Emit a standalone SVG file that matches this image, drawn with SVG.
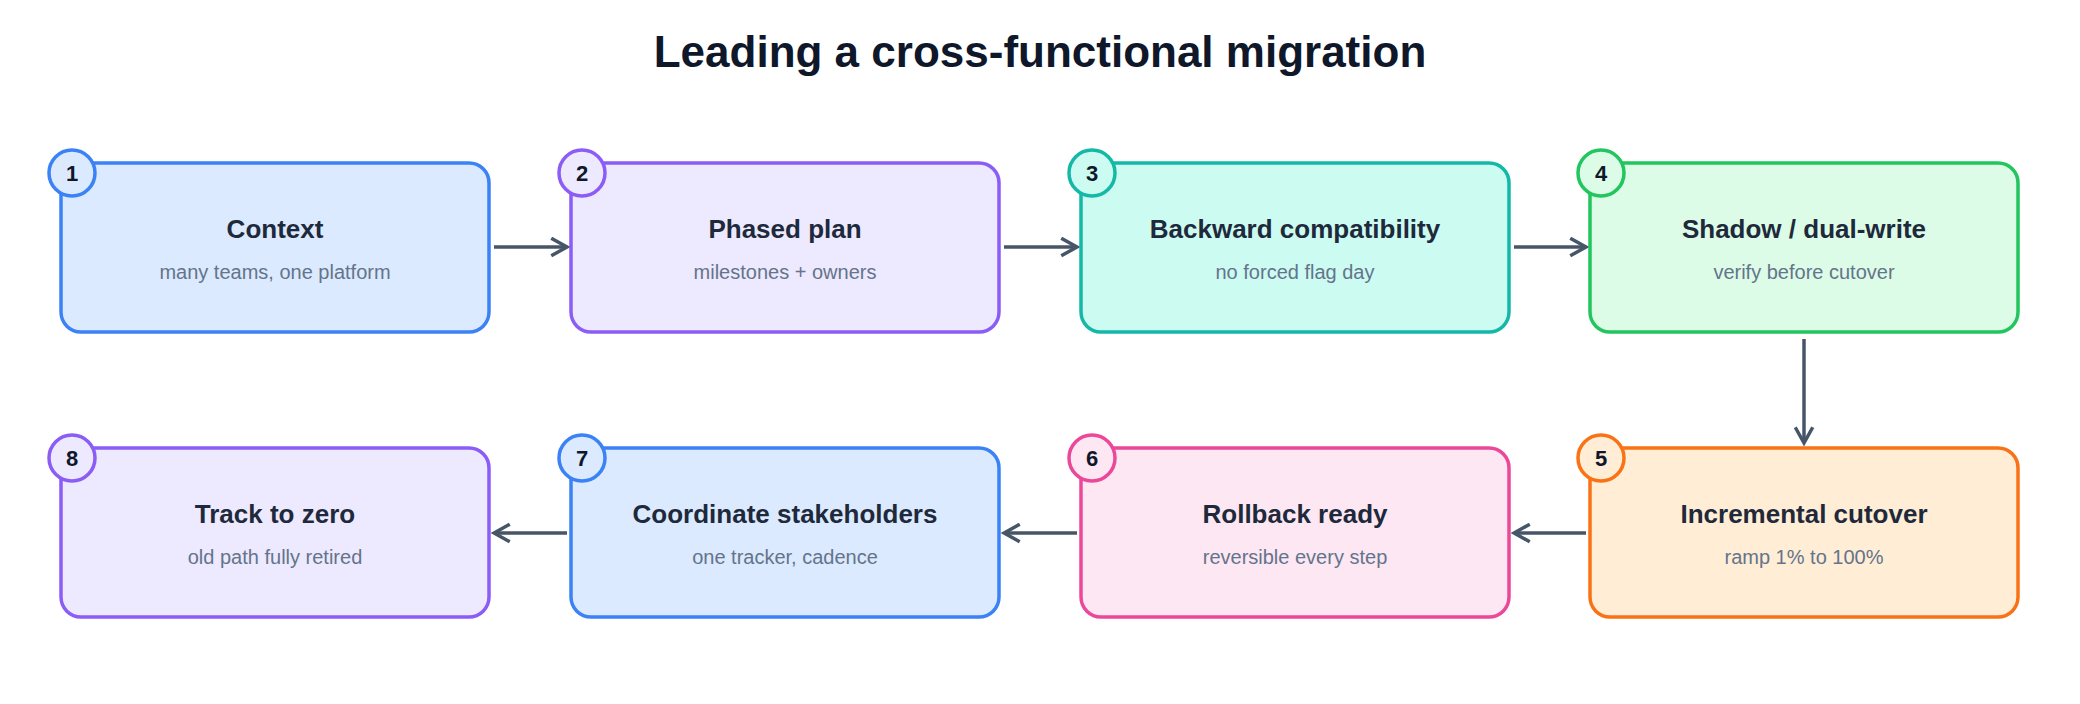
<svg xmlns="http://www.w3.org/2000/svg" width="2080" height="704" viewBox="0 0 2080 704">
<style>
text{font-family:"Liberation Sans",Arial,sans-serif;text-anchor:middle}
.t{font-size:26px;font-weight:bold;fill:#1e293b}
.s{font-size:20px;fill:#64748b}
.n{font-size:22px;font-weight:bold;fill:#0f172a}
.box{stroke-width:3.5}
.c{stroke-width:3.5}
.e{stroke:#475569;stroke-width:3.5;fill:none;marker-end:url(#a)}
</style>
<defs><marker id="a" viewBox="0 0 12 12" refX="10" refY="6" markerWidth="6" markerHeight="6" orient="auto" markerUnits="strokeWidth"><path d="M1 1L10 6L1 11" fill="none" stroke="#475569" stroke-width="2"/></marker></defs>
<rect width="2080" height="704" fill="#fff"/>
<text x="1040" y="67" style="font-size:44px;font-weight:bold;fill:#0f172a">Leading a cross-functional migration</text>
<g id="connectors">
<line class="e" x1="494" y1="247" x2="567" y2="247"/>
<line class="e" x1="1004" y1="247" x2="1077" y2="247"/>
<line class="e" x1="1514" y1="247" x2="1586" y2="247"/>
<line class="e" x1="1804" y1="339" x2="1804" y2="443"/>
<line class="e" x1="1586" y1="533" x2="1514" y2="533"/>
<line class="e" x1="1077" y1="533" x2="1004" y2="533"/>
<line class="e" x1="567" y1="533" x2="494" y2="533"/>
</g>
<g id="n1"><rect class="box" x="61" y="163" width="428" height="169" rx="20" fill="#dbeafe" stroke="#3b82f6"/><circle class="c" cx="72" cy="173" r="23" fill="#dbeafe" stroke="#3b82f6"/><text class="n" x="72" y="181">1</text><text class="t" x="275" y="238">Context</text><text class="s" x="275" y="279">many teams, one platform</text></g>
<g id="n2"><rect class="box" x="571" y="163" width="428" height="169" rx="20" fill="#ede9fe" stroke="#8b5cf6"/><circle class="c" cx="582" cy="173" r="23" fill="#ede9fe" stroke="#8b5cf6"/><text class="n" x="582" y="181">2</text><text class="t" x="785" y="238">Phased plan</text><text class="s" x="785" y="279">milestones + owners</text></g>
<g id="n3"><rect class="box" x="1081" y="163" width="428" height="169" rx="20" fill="#ccfbf1" stroke="#14b8a6"/><circle class="c" cx="1092" cy="173" r="23" fill="#ccfbf1" stroke="#14b8a6"/><text class="n" x="1092" y="181">3</text><text class="t" x="1295" y="238">Backward compatibility</text><text class="s" x="1295" y="279">no forced flag day</text></g>
<g id="n4"><rect class="box" x="1590" y="163" width="428" height="169" rx="20" fill="#dcfce7" stroke="#22c55e"/><circle class="c" cx="1601" cy="173" r="23" fill="#dcfce7" stroke="#22c55e"/><text class="n" x="1601" y="181">4</text><text class="t" x="1804" y="238">Shadow / dual-write</text><text class="s" x="1804" y="279">verify before cutover</text></g>
<g id="n5"><rect class="box" x="1590" y="448" width="428" height="169" rx="20" fill="#ffedd5" stroke="#f97316"/><circle class="c" cx="1601" cy="458" r="23" fill="#ffedd5" stroke="#f97316"/><text class="n" x="1601" y="466">5</text><text class="t" x="1804" y="523">Incremental cutover</text><text class="s" x="1804" y="564">ramp 1% to 100%</text></g>
<g id="n6"><rect class="box" x="1081" y="448" width="428" height="169" rx="20" fill="#fce7f3" stroke="#ec4899"/><circle class="c" cx="1092" cy="458" r="23" fill="#fce7f3" stroke="#ec4899"/><text class="n" x="1092" y="466">6</text><text class="t" x="1295" y="523">Rollback ready</text><text class="s" x="1295" y="564">reversible every step</text></g>
<g id="n7"><rect class="box" x="571" y="448" width="428" height="169" rx="20" fill="#dbeafe" stroke="#3b82f6"/><circle class="c" cx="582" cy="458" r="23" fill="#dbeafe" stroke="#3b82f6"/><text class="n" x="582" y="466">7</text><text class="t" x="785" y="523">Coordinate stakeholders</text><text class="s" x="785" y="564">one tracker, cadence</text></g>
<g id="n8"><rect class="box" x="61" y="448" width="428" height="169" rx="20" fill="#ede9fe" stroke="#8b5cf6"/><circle class="c" cx="72" cy="458" r="23" fill="#ede9fe" stroke="#8b5cf6"/><text class="n" x="72" y="466">8</text><text class="t" x="275" y="523">Track to zero</text><text class="s" x="275" y="564">old path fully retired</text></g>
</svg>
